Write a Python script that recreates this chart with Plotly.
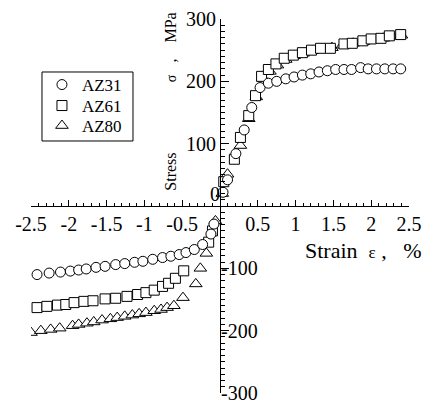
import plotly.graph_objects as go

# ---- data (strain %, stress MPa) ----
az31_strain = [-2.42, -2.26, -2.11, -1.98, -1.87, -1.77, -1.64, -1.52, -1.38, -1.26, -1.13, -1.02,
               -0.89, -0.76, -0.65, -0.54, -0.45, -0.34, -0.23, -0.12, -0.08,
               0.04, 0.10, 0.21, 0.32, 0.42, 0.53, 0.64, 0.75, 0.87, 0.98, 1.09, 1.20, 1.31,
               1.42, 1.53, 1.64, 1.74, 1.86, 1.96, 2.07, 2.18, 2.29, 2.39]
az31_stress = [-110, -107.6, -106, -104.4, -102.7, -101, -98.4, -96.8, -94, -92.4, -90.3, -88.7,
               -85.5, -82.7, -80.6, -77.9, -74.7, -69.8, -61.8, -45, -29,
               22, 42, 84, 122, 158, 190, 197, 200, 204, 207, 210, 212, 215,
               217, 219, 219, 219, 222, 220, 220, 220, 220, 220]

az61_strain = [-2.42, -2.29, -2.15, -2.04, -1.93, -1.80, -1.68, -1.52, -1.38, -1.23, -1.09, -0.98,
               -0.87, -0.76, -0.68, -0.59, -0.48, -0.15, -0.10,
               0.05, 0.19, 0.27, 0.38, 0.47, 0.55, 0.64, 0.74, 0.85, 0.97, 1.09, 1.21, 1.33,
               1.46, 1.64, 1.75, 1.89, 2.00, 2.13, 2.24, 2.39]
az61_stress = [-163, -161, -159, -158, -155, -153, -152, -149, -148, -145, -142, -139,
               -135, -129, -124, -116, -104, -58, -40,
               39, 75, 110, 145, 177, 208, 219, 228, 237, 242, 246, 250, 253,
               253, 260, 261, 265, 268, 269, 273, 275]

az80_strain = [-2.50, -2.37, -2.24, -2.12, -1.95, -1.87, -1.76, -1.67, -1.56, -1.45, -1.36, -1.26,
               -1.16, -1.07, -0.98, -0.87, -0.78, -0.70, -0.61, -0.49, -0.32, -0.26, -0.18, -0.06,
               0.03, 0.10, 0.27, 0.38, 0.48, 0.57, 0.66, 0.76, 0.87, 0.98, 1.10, 1.22, 1.35,
               1.48, 1.62, 1.76, 1.90, 2.03, 2.16, 2.28, 2.40]
az80_stress = [-203, -200, -198, -196, -192, -190, -188, -186, -183, -181, -179, -177,
               -175, -173, -171, -168, -166, -163, -160, -147, -125, -100, -76, -24,
               20, 51, 97, 140, 175, 205, 216, 226, 235, 241, 245, 249, 252,
               254, 258, 261, 264, 267, 269, 272, 274]

x_tickvals = [-2.5, -2, -1.5, -1, -0.5, 0, 0.5, 1, 1.5, 2, 2.5]
x_ticktext = ["-2.5", "-2", "-1.5", "-1", "-0.5", "", "0.5", "1", "1.5", "2", "2.5"]
y_all_ticks = [-300, -200, -100, 0, 100, 200, 300]
y_left_text = ["", "", "", "", "100", "200", "300"]
y_neg_vals = [-300, -200, -100]
y_neg_text = ["-300", "-200", "-100"]
y_zero_vals = [0]
y_zero_text = ["0"]

FONT = "Liberation Serif, Times New Roman, serif"

fig = go.Figure()
# drawn bottom-to-top: triangles, squares, circles
series = [("AZ80", az80_strain, az80_stress, "triangle-up", 11, "legend3"),
          ("AZ61", az61_strain, az61_stress, "square", 10, "legend2"),
          ("AZ31", az31_strain, az31_stress, "circle", 10, "legend")]
for name, xs, ys, sym, sz, lg in series:
    fig.add_trace(go.Scatter(
        x=xs, y=ys, mode="markers", name=name, legend=lg,
        marker=dict(symbol=sym, size=sz, color="white", line=dict(color="black", width=1)),
    ))

# helper (empty) traces so the overlay label axes are drawn
fig.add_trace(go.Scatter(x=[None], y=[None], yaxis="y2", showlegend=False, hoverinfo="skip"))
fig.add_trace(go.Scatter(x=[None], y=[None], yaxis="y3", showlegend=False, hoverinfo="skip"))

tickfont = dict(family=FONT, size=20, color="black")
legfont = dict(family=FONT, size=17, color="black")


def leg(yc):
    return dict(x=0.029, y=yc, xanchor="left", yanchor="middle",
                bgcolor="rgba(0,0,0,0)", borderwidth=0, font=legfont)


fig.update_layout(
    width=425, height=403,
    margin=dict(l=31, r=16, t=19, b=10, autoexpand=False),
    paper_bgcolor="white", plot_bgcolor="white",
    font=dict(family=FONT, color="black"),
    showlegend=True,
    legend=leg(0.8235),
    legend2=leg(0.7674),
    legend3=leg(0.7139),
    shapes=[dict(type="rect", xref="paper", yref="paper",
                 x0=0.0291, x1=0.2698, y0=0.6738, y1=0.8583,
                 line=dict(color="black", width=1), fillcolor="rgba(0,0,0,0)", layer="below")],
    xaxis=dict(range=[-2.5, 2.5], anchor="free", position=0.5,
               showline=True, linecolor="black", linewidth=1,
               ticks="inside", ticklen=6, tickcolor="black",
               tickmode="array", tickvals=x_tickvals, ticktext=x_ticktext,
               minor=dict(ticks="inside", ticklen=3, dtick=0.1, tick0=0, tickcolor="black"),
               showgrid=False, zeroline=False, tickfont=tickfont, automargin=False,
               ticklabeloverflow="allow"),
    yaxis=dict(range=[-300, 300], anchor="free", position=0.5, side="left",
               showline=True, linecolor="black", linewidth=1,
               ticks="inside", ticklen=8, tickcolor="black",
               tickmode="array", tickvals=y_all_ticks, ticktext=y_left_text,
               minor=dict(ticks="inside", ticklen=4, dtick=10, tick0=0, tickcolor="black"),
               showgrid=False, zeroline=False, tickfont=tickfont, automargin=False,
               ticklabeloverflow="allow"),
    yaxis2=dict(range=[-300, 300], overlaying="y", anchor="free", position=0.5, side="right",
                showline=False, ticks="", tickmode="array", tickvals=y_neg_vals, ticktext=y_neg_text,
                showgrid=False, zeroline=False, tickfont=tickfont, automargin=False,
                ticklabeloverflow="allow"),
    yaxis3=dict(range=[-300, 300], overlaying="y", anchor="free", position=0.5, side="left",
                showline=False, ticks="", tickmode="array", tickvals=y_zero_vals, ticktext=y_zero_text,
                ticklabelshift=-12,
                showgrid=False, zeroline=False, tickfont=tickfont, automargin=False,
                ticklabeloverflow="allow"),
    annotations=[
        dict(text="Strain&nbsp;&nbsp;<span style='font-size:17px'>ε</span>&nbsp;,&nbsp;&nbsp;&nbsp;%",
             xref="paper", yref="paper", x=0.7196, y=0.382, xanchor="left", yanchor="middle",
             showarrow=False, font=dict(family=FONT, size=22, color="black")),
        dict(text="Stress", textangle=-90,
             xref="paper", yref="paper", x=0.368, y=0.592, xanchor="center", yanchor="middle",
             showarrow=False, font=dict(family=FONT, size=16, color="black")),
        dict(text="<span style='font-size:14px'>σ</span>&nbsp;&nbsp;&nbsp;,&nbsp;&nbsp;&nbsp;&nbsp;MPa",
             textangle=-90,
             xref="paper", yref="paper", x=0.368, y=1.024, xanchor="center", yanchor="top",
             showarrow=False, font=dict(family=FONT, size=16, color="black")),
    ],
)

# remove the page's default 8px body margin so the figure fills the window exactly
fig.write_html("out.html",
               config={"displayModeBar": False},
               post_script="document.body.style.margin='0';document.body.style.overflow='hidden';")
